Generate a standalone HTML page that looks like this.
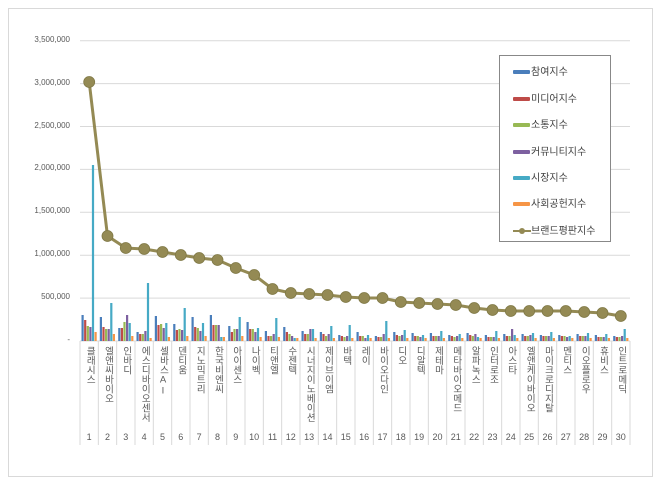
<!DOCTYPE html>
<html><head><meta charset="utf-8">
<style>
body{margin:0;background:#fff;width:660px;height:483px;overflow:hidden;position:relative;font-family:"Liberation Sans","Noto Sans CJK KR",sans-serif;}
.frame{position:absolute;left:8px;top:8px;width:643px;height:467px;border:1px solid #d9d9d9;}
.xl{position:absolute;writing-mode:vertical-rl;text-orientation:upright;font-size:9.5px;color:#595959;line-height:10px;}
.n{position:absolute;font-size:9px;color:#595959;text-align:center;width:18px;}
.yl{position:absolute;font-size:8px;color:#595959;text-align:right;width:60px;left:10px;}
.legend{position:absolute;left:499px;top:55px;width:110px;height:185px;border:1px solid #888;background:#fff;}
.li{position:absolute;left:13px;font-size:10px;color:#404040;}
.sw{display:inline-block;width:17px;height:4px;vertical-align:middle;margin-right:1px;border-radius:1px;}
</style></head><body>
<div class="frame"></div>
<svg id="s" width="660" height="483" style="position:absolute;left:0;top:0"></svg>
<div id="labels"></div>
<div class="legend">
<div class="li" style="top:7px"><span class="sw" style="background:#4a7ebb"></span>참여지수</div>
<div class="li" style="top:34px"><span class="sw" style="background:#be4b48"></span>미디어지수</div>
<div class="li" style="top:60px"><span class="sw" style="background:#98b954"></span>소통지수</div>
<div class="li" style="top:87px"><span class="sw" style="background:#7d60a0"></span>커뮤니티지수</div>
<div class="li" style="top:113px"><span class="sw" style="background:#46aac5"></span>시장지수</div>
<div class="li" style="top:139px"><span class="sw" style="background:#f69546"></span>사회공헌지수</div>
<div class="li" style="top:166px"><svg width="18" height="8" style="vertical-align:middle"><line x1="0" y1="4" x2="18" y2="4" stroke="#948a54" stroke-width="2"/><circle cx="9" cy="4" r="3" fill="#948a54"/></svg>브랜드평판지수</div>
</div>
<script>
const names=["클래시스","엘앤씨바이오","인바디","에스디바이오센서","셀바스AI","덴티움","지노믹트리","한국비엔씨","아이센스","나이벡","티앤엘","수젠텍","시너지이노베이션","제이브이엠","바텍","레이","바이오다인","디오","디알텍","제테마","메타바이오메드","알파녹스","인터로조","아스타","엘앤케이바이오","마이크로디지탈","멘티스","이오플로우","휴비스","인트로메딕"];
const ly=[82,236,248,249,252,255,258,260,268,275,289,293,294,295,297,298,298,302,303,304,305,308,310,311,311,311,311,312,313,316];
const bars=[[26,21,15,14,176,9],[24,14,12,12,38,7],[13,13,19,26,18,5],[9,7,7,10,58,3],[25,16,17,13,18,4],[17,11,12,11,33,5],[24,14,13,10,18,5],[26,16,16,16,4,4],[15,9,12,12,24,5],[19,12,12,9,13,4],[10,5,5,7,23,4],
[14,9,7,5,3,3],[10,7,7,12,12,3],[9,7,5,7,15,3],[6,5,4,5,16,3],[9,5,5,3,6,3],[5,4,4,7,20,3],[9,6,5,6,11,3],[8,5,5,4,6,3],[8,5,5,5,10,3],[6,5,4,5,7,3],[8,6,5,7,4,3],[6,4,4,4,10,3],[7,5,5,12,6,3],[7,5,5,6,8,3],[6,5,5,5,9,3],[6,5,5,4,5,3],[7,5,5,5,8,3],[6,4,4,4,7,3],[5,4,4,5,12,3]];
const cols=["#4a7ebb","#be4b48","#98b954","#7d60a0","#46aac5","#f69546"];
let s='';
const x0=80,x1=630,base=341,cw=(x1-x0)/30;
for(let i=1;i<=7;i++){const y=base-i*42.9;s+=`<line x1="${x0}" y1="${y}" x2="${x1}" y2="${y}" stroke="#d9d9d9"/>`;}
s+=`<line x1="${x0}" y1="${base}" x2="${x1}" y2="${base}" stroke="#d9d9d9"/>`;
for(let i=0;i<=30;i++){const x=x0+i*cw;s+=`<line x1="${x}" y1="${base}" x2="${x}" y2="445" stroke="#d9d9d9"/>`;}
for(let i=0;i<30;i++){const cx=x0+i*cw;for(let j=0;j<6;j++){const h=bars[i][j];s+=`<rect x="${(cx+1.5+j*2.6).toFixed(1)}" y="${base-h}" width="2.2" height="${h}" fill="${cols[j]}"/>`;}}
let pts=ly.map((y,i)=>`${(x0+(i+0.5)*cw).toFixed(1)},${y}`).join(' ');
s+=`<polyline points="${pts}" fill="none" stroke="#948a54" stroke-width="3"/>`;
ly.forEach((y,i)=>{s+=`<circle cx="${(x0+(i+0.5)*cw).toFixed(1)}" cy="${y}" r="5.5" fill="#948a54" stroke="#7f7845" stroke-width="0.8"/>`;});
document.getElementById('s').innerHTML=s;
let h='';
const yl=["-","500,000","1,000,000","1,500,000","2,000,000","2,500,000","3,000,000","3,500,000"];
yl.forEach((t,i)=>{h+=`<div class="yl" style="top:${base-i*42.9-6}px">${t}</div>`;});
names.forEach((n,i)=>{const cx=x0+(i+0.5)*cw;h+=`<div class="xl" style="left:${(cx-5).toFixed(1)}px;top:346px">${n}</div>`;h+=`<div class="n" style="left:${(cx-9).toFixed(1)}px;top:432px">${i+1}</div>`;});
document.getElementById('labels').innerHTML=h;
</script>
</body></html>
